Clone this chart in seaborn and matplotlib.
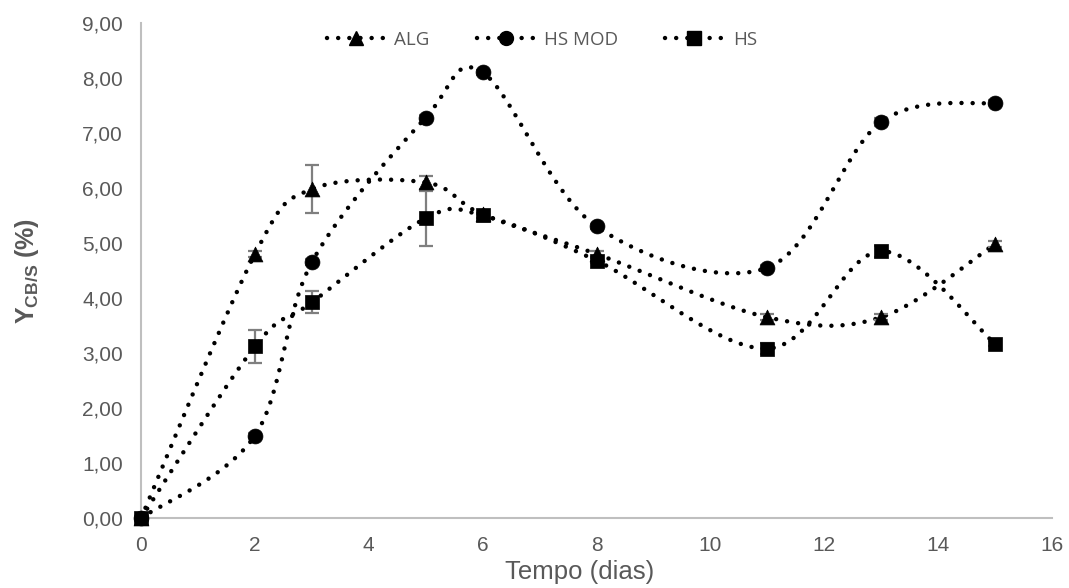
import numpy as np
import pandas as pd
import seaborn as sns
import matplotlib
matplotlib.use("Agg")
import matplotlib.pyplot as plt
from matplotlib.lines import Line2D
from matplotlib.ticker import FuncFormatter, MultipleLocator

# ---- data ----
dias = [0, 2, 3, 5, 6, 8, 11, 13, 15]
alg = [0.00, 4.80, 5.98, 6.10, 5.52, 4.80, 3.65, 3.65, 4.98]
hs_mod = [0.00, 1.50, 4.65, 7.28, 8.10, 5.30, 4.55, 7.20, 7.55]
hs = [0.00, 3.12, 3.92, 5.45, 5.50, 4.68, 3.08, 4.85, 3.17]
alg_err = [0.00, 0.05, 0.43, 0.12, 0.00, 0.05, 0.05, 0.05, 0.05]
hs_mod_err = [0.00, 0.05, 0.05, 0.05, 0.05, 0.05, 0.05, 0.08, 0.05]
hs_err = [0.00, 0.30, 0.20, 0.50, 0.05, 0.05, 0.10, 0.10, 0.05]
series_names = ["ALG", "HS MOD", "HS"]
markers = ["^", "o", "s"]

sns.set_theme(style="white")
plt.rcParams["font.family"] = ["Liberation Sans", "DejaVu Sans"]
plt.rcParams["mathtext.fontset"] = "custom"
plt.rcParams["mathtext.rm"] = "Liberation Sans"
plt.rcParams["mathtext.bf"] = "Liberation Sans:bold"

GRAY = "#595959"
AX = "#bfbfbf"


def smooth(xs, ys, n=40, sx=57.0, sy=55.0):
    """Excel-like smoothed line (Catmull-Rom in pixel-like space)."""
    P = np.column_stack([np.asarray(xs, float) * sx, np.asarray(ys, float) * sy])
    P = np.vstack([P[0], P, P[-1]])
    out = []
    for i in range(1, len(P) - 2):
        p0, p1, p2, p3 = P[i - 1], P[i], P[i + 1], P[i + 2]
        c1 = p1 + (p2 - p0) / 6.0
        c2 = p2 - (p3 - p1) / 6.0
        t = np.linspace(0, 1, n)[:, None]
        b = ((1 - t) ** 3) * p1 + 3 * ((1 - t) ** 2) * t * c1 + 3 * (1 - t) * t ** 2 * c2 + t ** 3 * p2
        out.append(b if i == 1 else b[1:])
    B = np.vstack(out)
    return B[:, 0] / sx, B[:, 1] / sy


fig = plt.figure(figsize=(10.69, 5.88), dpi=100)
ax = fig.add_axes([0.132, 0.119, 0.852, 0.842])

dot_style = (0, (0.01, 2.5))
handles = []
for name, vals, errs, m in zip(series_names, [alg, hs_mod, hs], [alg_err, hs_mod_err, hs_err], markers):
    cx, cy = smooth(dias, vals)
    df_line = pd.DataFrame({"x": cx, "y": cy})
    sns.lineplot(data=df_line, x="x", y="y", sort=False, ax=ax, color="black",
                 lw=3.2, linestyle=dot_style, dash_capstyle="round", zorder=2)
    ax.errorbar(dias, vals, yerr=errs, fmt="none", ecolor="#7f7f7f", elinewidth=1.6,
                capsize=5, capthick=1.6, zorder=3)
    df_pts = pd.DataFrame({"x": dias, "y": vals})
    sns.scatterplot(data=df_pts, x="x", y="y", marker=m, s=115, color="black",
                    edgecolor="black", linewidth=0.5, ax=ax, zorder=4, clip_on=False)
    handles.append(Line2D([0], [0], color="black", lw=3.2, linestyle=dot_style,
                          dash_capstyle="round", marker=m, markersize=10,
                          markerfacecolor="black", markeredgecolor="black"))

ax.set_xlim(0, 16)
ax.set_ylim(0, 9)
ax.xaxis.set_major_locator(MultipleLocator(2))
ax.yaxis.set_major_locator(MultipleLocator(1))
ax.yaxis.set_major_formatter(FuncFormatter(lambda v, p: f"{v:.2f}".replace(".", ",")))

for s in ["top", "right"]:
    ax.spines[s].set_visible(False)
for s in ["left", "bottom"]:
    ax.spines[s].set_color(AX)
    ax.spines[s].set_linewidth(1.5)
ax.tick_params(axis="both", length=0, colors=GRAY, labelsize=15)
ax.tick_params(axis="x", pad=13)
ax.tick_params(axis="y", pad=13)

ax.set_xlabel("Tempo (dias)", color=GRAY, fontsize=18.5, labelpad=4)
ax.xaxis.set_label_coords(0.481, -0.085)
ax.set_ylabel(r"$\mathbf{Y}_{\mathbf{CB/S}}$" + " (%)", color=GRAY, fontsize=18,
              fontweight="bold", labelpad=30)

leg = ax.legend(handles, series_names, loc="center", bbox_to_anchor=(0.44, 0.966),
                ncol=3, frameon=False, fontsize=13.5, handlelength=3.1,
                columnspacing=2.5, handletextpad=0.5)
for t in leg.get_texts():
    t.set_color(GRAY)
    t.set_family(["Open Sans", "Liberation Sans"])

fig.savefig("out.png", dpi=100)
